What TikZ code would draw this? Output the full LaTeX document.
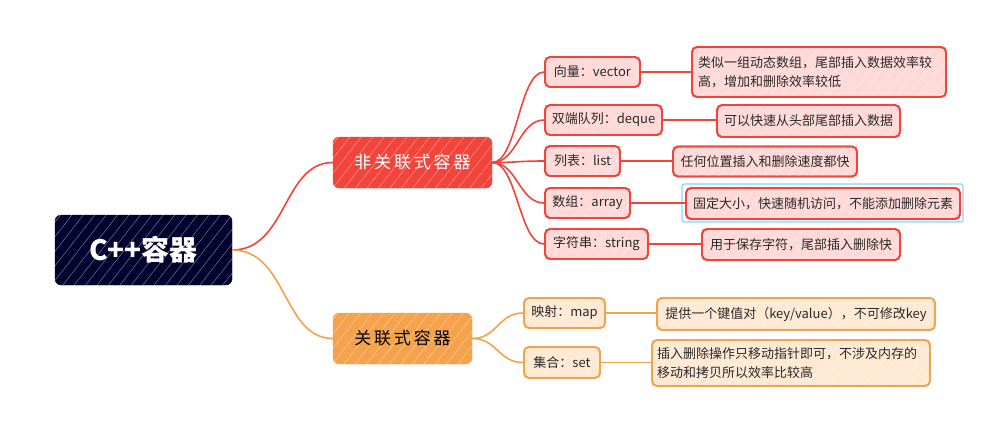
\documentclass[tikz,border=0pt]{standalone}
\usepackage{fontspec}
\setmainfont{Noto Sans CJK SC}
\usetikzlibrary{positioning,patterns.meta}
\definecolor{rootc}{HTML}{02022E}
\definecolor{redc}{HTML}{F2443A}
\definecolor{redfill}{HTML}{FFD8D8}
\definecolor{orc}{HTML}{F5A24C}
\definecolor{orfill}{HTML}{FFE9D2}
\definecolor{selc}{HTML}{8ED3F2}
\definecolor{txt}{HTML}{2A2A2A}
\tikzset{
  x=1pt, y=1pt,
  hatch/.style={postaction={pattern={Lines[angle=52,distance=9pt,line width=0.5pt]}, pattern color=#1}},
  rootbox/.style={draw=rootc, fill=rootc, hatch=rootc!55!white, rounded corners=6pt, minimum width=177pt, minimum height=70pt, text=white, font=\fontsize{28}{30}\selectfont\bfseries, inner sep=0pt},
  redmain/.style={draw=redc, fill=redc, hatch=redc!55!white, rounded corners=6pt, minimum width=159pt, minimum height=51pt, text=white, font=\fontsize{17}{20}\selectfont, inner sep=0pt},
  ormain/.style={draw=orc, fill=orc, hatch=orc!55!white, rounded corners=6pt, minimum width=139pt, minimum height=51pt, text=black, font=\fontsize{17}{20}\selectfont, inner sep=0pt},
  redkid/.style={draw=redc, line width=1.8pt, fill=redfill, hatch=redfill!40!white, postaction={draw=redc, line width=1.8pt}, rounded corners=5pt, minimum height=30pt, inner sep=0pt, font=\fontsize{13}{15}\selectfont, text=txt},
  orkid/.style={draw=orc, line width=1.8pt, fill=orfill, hatch=orfill!40!white, postaction={draw=orc, line width=1.8pt}, rounded corners=5pt, minimum height=30pt, inner sep=0pt, font=\fontsize{13}{15}\selectfont, text=txt},
  redline/.style={draw=redc, line width=1.6pt},
  orline/.style={draw=orc, line width=1.6pt},
}
\begin{document}
\begin{tikzpicture}
\useasboundingbox (0,0) rectangle (1004,-424);
% main nodes
\node[rootbox] (root) at (143.5,-250) {C++容器};
\node[redmain] (nr) at (412.5,-162.5) {非\,关\,联\,式\,容\,器};
\node[ormain] (ar) at (402.5,-338.5) {关\,联\,式\,容\,器};
% red kids
\node[redkid, minimum width=95pt] (k1) at (592.5,-72) {向量：vector};
\node[redkid, minimum width=117pt] (k2) at (603.5,-120) {双端队列：deque};
\node[redkid, minimum width=75pt] (k3) at (582.5,-161) {列表：list};
\node[redkid, minimum width=85pt] (k4) at (587.5,-203) {数组：array};
\node[redkid, minimum width=103pt] (k5) at (596.5,-244) {字符串：string};
% red leaves
\node[redkid, minimum width=254pt, minimum height=50pt, align=left, text width=242pt, font=\fontsize{13}{19}\selectfont] (l1) at (819,-72) {类似一组动态数组，尾部插入数据效率较\\高，增加和删除效率较低};
\node[redkid, minimum width=183pt, minimum height=32pt] (l2) at (808.5,-121) {可以快速从头部尾部插入数据};
\node[redkid, minimum width=184pt] (l3) at (765,-161.5) {任何位置插入和删除速度都快};
\node[redkid, minimum width=274pt, minimum height=31pt] (l4) at (823,-203.5) {固定大小，快速随机访问，不能添加删除元素};
\node[redkid, minimum width=198pt, minimum height=31pt] (l5) at (801,-244.5) {用于保存字符，尾部插入删除快};
\draw[selc, line width=1.2pt, rounded corners=2pt] (682,-184) rectangle (963,-222);
% orange kids
\node[orkid, minimum width=81pt] (m1) at (564.5,-313) {映射：map};
\node[orkid, minimum width=76pt, minimum height=31pt] (m2) at (562,-362.5) {集合：set};
\node[orkid, minimum width=278pt, minimum height=32pt] (n1) at (796,-314) {提供一个键值对（key/value），不可修改key};
\node[orkid, minimum width=278pt, minimum height=46pt, align=left, text width=268pt, font=\fontsize{13}{19}\selectfont] (n2) at (791,-363) {插入删除操作只移动指针即可，不涉及内存的\\移动和拷贝所以效率比较高};
% connectors root
\draw[redline] (root.east) .. controls +(55,0) and +(-50,0) .. (nr.west);
\draw[orline] (root.east) .. controls +(55,0) and +(-50,0) .. (ar.west);
% red fan
\foreach \k in {k1,k2,k3,k4,k5}{
  \draw[redline] (nr.east) .. controls +(25,0) and +(-25,0) .. (\k.west);
}
\foreach \a/\b in {k1/l1,k2/l2,k3/l3,k4/l4,k5/l5}{
  \draw[redline] (\a.east) -- (\b.west |- \a.east);
}
% orange fan
\foreach \k in {m1,m2}{
  \draw[orline] (ar.east) .. controls +(25,0) and +(-25,0) .. (\k.west);
}
\draw[orline] (m1.east) -- (n1.west |- m1.east);
\draw[orline] (m2.east) -- (n2.west |- m2.east);
\end{tikzpicture}
\end{document}
